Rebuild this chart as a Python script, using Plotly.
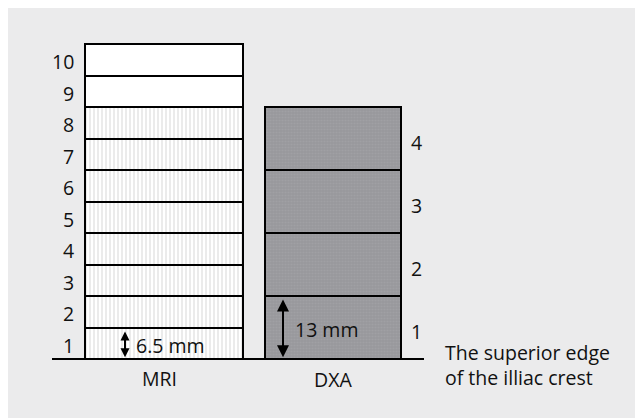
import plotly.graph_objects as go
import numpy as np

# ---- data ----
methods = ["MRI", "DXA"]
mri_segments = [1, 2, 3, 4, 5, 6, 7, 8, 9, 10]
mri_height_mm = 6.5
mri_in_range = [True] * 8 + [False] * 2
dxa_segments = [1, 2, 3, 4]
dxa_height_mm = 13.0
mri_label = "6.5 mm"
dxa_label = "13 mm"
baseline_label = "The superior edge<br>of the illiac crest"

# ---- layout constants (x axis in screen pixels, y axis in mm) ----
W, H = 643, 418
OFF = 8  # page body margin
px_per_mm = 31.5 / 6.5
base_px = 359
x_lo, x_hi = OFF, OFF + W
y_lo = -(OFF + H - base_px) / px_per_mm
y_hi = (base_px - OFF) / px_per_mm
mri_x, mri_w = 164, 158
dxa_x, dxa_w = 333, 136
FONT = "Open Sans"
fs = 19.5

def ypx(p):
    return (base_px - p) / px_per_mm

mri_base = np.cumsum([0] + [mri_height_mm] * (len(mri_segments) - 1))
dxa_base = np.cumsum([0] + [dxa_height_mm] * (len(dxa_segments) - 1))

fig = go.Figure()
fig.add_trace(go.Bar(
    x=[mri_x] * len(mri_segments), y=[mri_height_mm] * len(mri_segments),
    base=mri_base, width=mri_w,
    marker=dict(color="white", line=dict(color="black", width=2),
                pattern=dict(shape=["|" if v else "" for v in mri_in_range],
                             fgcolor="#b0b0b0", bgcolor="white", size=4, solidity=0.25)),
    hoverinfo="skip", showlegend=False))
fig.add_trace(go.Bar(
    x=[dxa_x] * len(dxa_segments), y=[dxa_height_mm] * len(dxa_segments),
    base=dxa_base, width=dxa_w,
    marker=dict(color="#9a9a9e", line=dict(color="black", width=2),
                pattern=dict(shape=".", fgcolor="#a8a8ac", bgcolor="#98989c", size=3, solidity=0.4)),
    hoverinfo="skip", showlegend=False))

ann = []
for i, s in enumerate(mri_segments):
    ann.append(dict(x=76, y=mri_base[i] + mri_height_mm / 2 - 0.4, text=str(s), xanchor="right",
                    yanchor="middle", showarrow=False))
for i, s in enumerate(dxa_segments):
    ann.append(dict(x=409, y=dxa_base[i] + dxa_height_mm / 2 - 0.8, text=str(s), xanchor="left",
                    yanchor="middle", showarrow=False))
ann.append(dict(x=mri_x - 5, y=ypx(378), text=methods[0], showarrow=False))
ann.append(dict(x=dxa_x, y=ypx(379), text=methods[1], showarrow=False))
ann.append(dict(x=443, y=ypx(365), text=baseline_label, xanchor="left",
                yanchor="middle", align="left", showarrow=False))
# arrows
for ax_x, top, lab, lx, asz in [(125, 6.0, mri_label, 134, 0.9), (283, 12.6, dxa_label, 293, 1.2)]:
    ann.append(dict(x=ax_x, y=0.35, ax=ax_x, ay=top, xref="x", yref="y", axref="x", ayref="y",
                    text="", showarrow=True, arrowhead=2, arrowside="end+start",
                    arrowsize=asz, arrowwidth=2, arrowcolor="black"))
    ann.append(dict(x=lx, y=top / 2 - 0.3, text=lab, xanchor="left", yanchor="middle", showarrow=False))

fig.update_layout(
    width=W, height=H, margin=dict(l=0, r=0, t=0, b=0),
    paper_bgcolor="#ebebec", plot_bgcolor="#ebebec",
    barmode="overlay", bargap=0,
    font=dict(family=FONT, size=fs, color="#111111"),
    annotations=ann,
    shapes=[dict(type="line", xref="x", yref="y", x0=52, x1=424, y0=0, y1=0,
                 line=dict(color="black", width=2), layer="above")],
    xaxis=dict(range=[x_lo, x_hi], visible=False, fixedrange=True),
    yaxis=dict(range=[y_lo, y_hi], visible=False, fixedrange=True),
)
fig.write_html("out.html")
